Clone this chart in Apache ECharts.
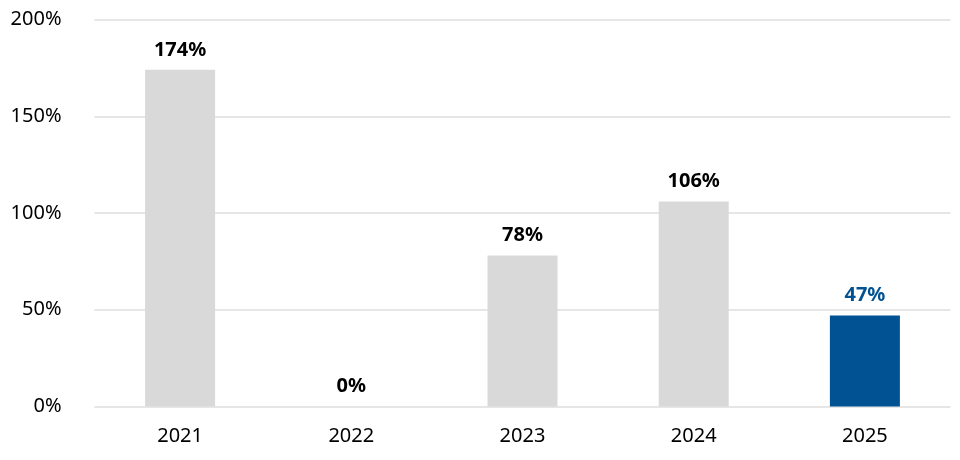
<!DOCTYPE html>
<html><head><meta charset="utf-8">
<script src="https://cdn.jsdelivr.net/npm/echarts@6/dist/echarts.min.js"></script>
<style>html,body{margin:0;padding:0;background:#fff}#c{width:960px;height:460px}</style>
</head><body><div id="c"></div>
<script>
const categories = ['2021','2022','2023','2024','2025'];
const values = [174, 0, 78, 106, 47];
const highlight = [false, false, false, false, true];
const yTicks = [0, 50, 100, 150, 200];

const GRAY = '#d9d9d9', BLUE = '#005293';
const FONT = 'Noto Sans';
const chart = echarts.init(document.getElementById('c'), null, {renderer:'canvas'});
chart.setOption({
  animation:false,
  grid:{left:94.5, right:9.5, top:19.5, bottom:53.5, containLabel:false},
  xAxis:{type:'category', data:categories,
    axisLine:{show:false}, axisTick:{show:false},
    axisLabel:{color:'#000', fontFamily:FONT, fontSize:20, margin:20}},
  yAxis:{type:'value', min:yTicks[0], max:yTicks[yTicks.length-1], interval:50,
    axisLine:{show:false}, axisTick:{show:false},
    splitLine:{lineStyle:{color:'#e6e6e6', width:2}},
    axisLabel:{color:'#000', fontFamily:FONT, fontSize:20, margin:33, formatter:v=>v+'%'}},
  series:[{type:'bar', barWidth:70,
    data:values.map((v,i)=>({value:v,
      itemStyle:{color:highlight[i]?BLUE:GRAY},
      label:{color:highlight[i]?BLUE:'#000'}})),
    label:{show:true, position:'top', distance:10, fontFamily:FONT, fontSize:20, fontWeight:'bold', formatter:p=>p.value+'%'}
  }]
});
</script></body></html>
